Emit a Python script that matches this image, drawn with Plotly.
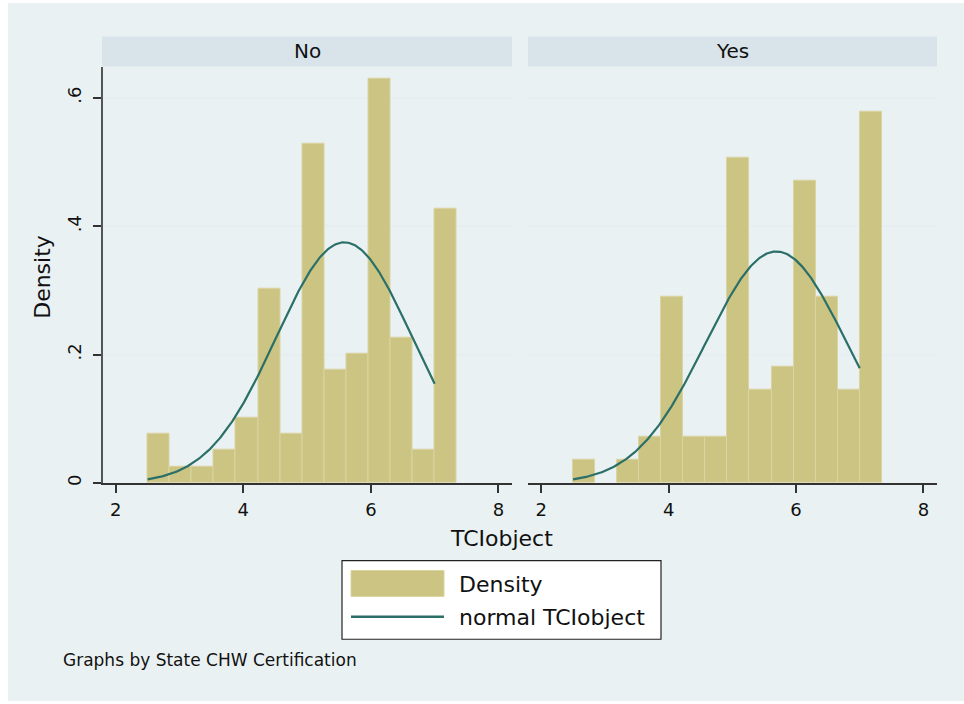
import numpy as np
import plotly.graph_objects as go

# ---------------- data ----------------
panels = ["No", "Yes"]
bin_start = 2.5
bin_width = 0.34615
n_bins = 14
density_no = [0.076, 0.025, 0.025, 0.051, 0.101, 0.303, 0.076, 0.529,
              0.176, 0.201, 0.630, 0.227, 0.051, 0.428]
density_yes = [0.036, 0.0, 0.036, 0.072, 0.290, 0.072, 0.072, 0.507,
               0.145, 0.181, 0.471, 0.290, 0.145, 0.579]
normal_mean = {"No": 5.583, "Yes": 5.69}
normal_sd = {"No": 1.064, "Yes": 1.106}
curve_min, curve_max = 2.5, 7.0
x_ticks = [2, 4, 6, 8]
x_ticktext = ["2", "4", "6", "8"]
y_ticks = [0, 0.2, 0.4, 0.6]
y_ticktext = ["0", ".2", ".4", ".6"]

# ---------------- styling ----------------
W, H = 964, 704
FONT = "DejaVu Sans"
BAR_FILL = "#cbc482"
BAR_LINE = "#dad4a2"
CURVE = "#2b6f69"
OUTER_BG = "#eaf1f3"
STRIP_BG = "#d8e4ea"
GRID = "#e6eef1"


def px(x):
    return x / W


def py(y):
    return 1 - y / H


bin_centers = [bin_start + bin_width * (i + 0.5) for i in range(n_bins)]
xs = np.linspace(curve_min, curve_max, 300)

fig = go.Figure()
for k, (name, dens) in enumerate(zip(panels, [density_no, density_yes])):
    xa = "x" if k == 0 else "x2"
    ya = "y" if k == 0 else "y2"
    fig.add_trace(go.Bar(
        x=bin_centers, y=[d if d > 0 else None for d in dens], width=[bin_width] * n_bins,
        marker=dict(color=BAR_FILL,
                    line=dict(color=BAR_LINE, width=[1 if d > 0 else 0 for d in dens])),
        xaxis=xa, yaxis=ya, name="Density", hoverinfo="skip"))
    m, s = normal_mean[name], normal_sd[name]
    ys = np.exp(-0.5 * ((xs - m) / s) ** 2) / (s * np.sqrt(2 * np.pi))
    fig.add_trace(go.Scatter(
        x=xs, y=ys, mode="lines", line=dict(color=CURVE, width=2.2),
        xaxis=xa, yaxis=ya, name="normal TCIobject", hoverinfo="skip"))

top, bottom = 67, 485
ydom = [py(bottom), py(top)]
xr = [1.792, 8.213]
yr = [0, 0.6486]

common_x = dict(range=xr, tickvals=x_ticks, ticktext=x_ticktext, ticks="outside",
                ticklen=8, tickwidth=1.5, tickcolor="#333333", showline=True,
                linecolor="#333333", linewidth=1.5, showgrid=False, zeroline=False,
                tickfont=dict(family=FONT, size=18, color="#111111"),
                ticklabelstandoff=2, fixedrange=True)
fig.update_layout(
    width=W, height=H, margin=dict(l=0, r=0, t=0, b=0),
    paper_bgcolor="white", plot_bgcolor="white", showlegend=False,
    bargap=0,
    xaxis=dict(domain=[px(102.5), px(512)], anchor="y", **common_x),
    xaxis2=dict(domain=[px(528), px(937)], anchor="y2", **common_x),
    yaxis=dict(domain=ydom, anchor="x", range=yr, tickvals=y_ticks, ticktext=y_ticktext,
               ticks="outside", ticklen=8, tickwidth=1.5, tickcolor="#333333",
               showline=True, linecolor="#555555", linewidth=2,
               showgrid=True, gridcolor=GRID, gridwidth=1.5, zeroline=False,
               tickangle=-90, tickfont=dict(family=FONT, size=18, color="#111111"),
               ticklabelstandoff=4, fixedrange=True),
    yaxis2=dict(domain=ydom, anchor="x2", range=yr, tickvals=y_ticks,
                showticklabels=False, ticks="", showline=False,
                showgrid=True, gridcolor=GRID, gridwidth=1.5, zeroline=False,
                fixedrange=True),
)

shapes = []
# outer light background
shapes.append(dict(type="rect", xref="paper", yref="paper", x0=px(8), x1=1,
                   y0=0, y1=py(3), fillcolor=OUTER_BG, line=dict(width=0), layer="below"))
# strip headers
for x0, x1 in [(102, 512), (528, 937)]:
    shapes.append(dict(type="rect", xref="paper", yref="paper", x0=px(x0), x1=px(x1),
                       y0=py(66.7), y1=py(36.7), fillcolor=STRIP_BG,
                       line=dict(width=0), layer="below"))
# legend box
shapes.append(dict(type="rect", xref="paper", yref="paper", x0=px(342), x1=px(661),
                   y0=py(642), y1=py(563), fillcolor="white",
                   line=dict(color="#222222", width=1.2)))
shapes.append(dict(type="rect", xref="paper", yref="paper", x0=px(351), x1=px(444),
                   y0=py(599), y1=py(573), fillcolor=BAR_FILL,
                   line=dict(color=BAR_LINE, width=1)))
shapes.append(dict(type="line", xref="paper", yref="paper", x0=px(351), x1=px(444),
                   y0=py(619.5), y1=py(619.5), line=dict(color=CURVE, width=2.5)))
fig.update_layout(shapes=shapes)

ann = []
ann.append(dict(text="No", x=px(307), y=py(51.5), xref="paper", yref="paper",
                showarrow=False, font=dict(family=FONT, size=20, color="#111111"),
                xanchor="center", yanchor="middle"))
ann.append(dict(text="Yes", x=px(732), y=py(51.5), xref="paper", yref="paper",
                showarrow=False, font=dict(family=FONT, size=20, color="#111111"),
                xanchor="center", yanchor="middle"))
ann.append(dict(text="Density", x=px(43), y=py(278), xref="paper", yref="paper",
                showarrow=False, textangle=-90,
                font=dict(family=FONT, size=22, color="#111111"),
                xanchor="center", yanchor="middle"))
ann.append(dict(text="TCIobject", x=px(501), y=py(541), xref="paper", yref="paper",
                showarrow=False, font=dict(family=FONT, size=22, color="#111111"),
                xanchor="center", yanchor="middle"))
ann.append(dict(text="Density", x=px(457), y=py(587), xref="paper", yref="paper",
                showarrow=False, font=dict(family=FONT, size=22, color="#111111"),
                xanchor="left", yanchor="middle"))
ann.append(dict(text="normal TCIobject", x=px(457), y=py(620), xref="paper", yref="paper",
                showarrow=False, font=dict(family=FONT, size=22, color="#111111"),
                xanchor="left", yanchor="middle"))
ann.append(dict(text="Graphs by State CHW Certification", x=px(61), y=py(663),
                xref="paper", yref="paper", showarrow=False,
                font=dict(family=FONT, size=17, color="#111111"),
                xanchor="left", yanchor="middle"))
fig.update_layout(annotations=ann)

fig.write_html("out.html")
